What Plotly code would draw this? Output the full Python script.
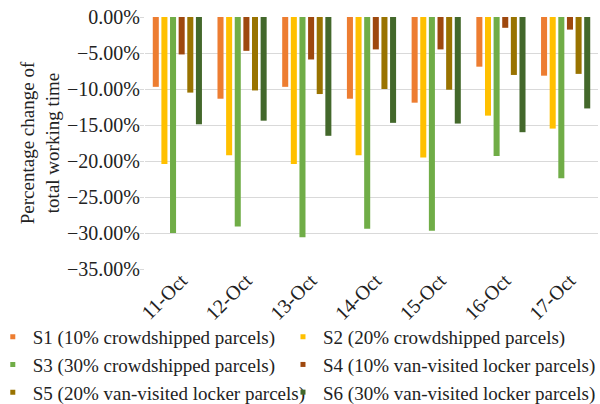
import plotly.graph_objects as go

categories = ["11-Oct", "12-Oct", "13-Oct", "14-Oct", "15-Oct", "16-Oct", "17-Oct"]
series_names = [
    "S1 (10% crowdshipped parcels)",
    "S2 (20% crowdshipped parcels)",
    "S3 (30% crowdshipped parcels)",
    "S4 (10% van-visited locker parcels)",
    "S5 (20% van-visited locker parcels)",
    "S6 (30% van-visited locker parcels)",
]
s1 = [-9.7, -11.35, -9.7, -11.35, -11.9, -6.9, -8.15]
s2 = [-20.4, -19.2, -20.4, -19.2, -19.5, -13.7, -15.5]
s3 = [-30.0, -29.1, -30.6, -29.4, -29.7, -19.3, -22.4]
s4 = [-5.2, -4.7, -5.9, -4.5, -4.5, -1.5, -1.75]
s5 = [-10.5, -10.2, -10.7, -10.0, -10.1, -8.05, -7.9]
s6 = [-14.9, -14.4, -16.5, -14.7, -14.8, -16.0, -12.7]
series_values = [s1, s2, s3, s4, s5, s6]
colors = ["#ED7D31", "#FFC000", "#70AD47", "#9E480E", "#997300", "#43682B"]
y_ticks = [0, -5, -10, -15, -20, -25, -30, -35]
legend_columns = ["legend", "legend2", "legend", "legend2", "legend", "legend2"]

FONT = "Liberation Serif"

fig = go.Figure()
for name, vals, col in zip(series_names, series_values, colors):
    fig.add_trace(go.Bar(x=categories, y=vals, name=name, marker_color=col,
                         marker_line_width=0, showlegend=False))
for name, col, lg in zip(series_names, colors, legend_columns):
    fig.add_trace(go.Scatter(x=[None], y=[None], mode="markers", name=name,
                             legend=lg,
                             marker=dict(symbol="square", size=5, color=col)))

legend_common = dict(orientation="v", xanchor="left", y=-0.194, yanchor="top",
                     itemwidth=30, bgcolor="rgba(0,0,0,0)",
                     font=dict(family=FONT, size=19, color="#222"),
                     tracegroupgap=0, traceorder="normal")

fig.update_layout(
    width=600, height=404,
    margin=dict(l=145, r=2, t=17, b=135, autoexpand=False),
    paper_bgcolor="white", plot_bgcolor="white",
    barmode="group", bargap=0.2, bargroupgap=0.3,
    font=dict(family=FONT, size=19, color="#222"),
    legend=dict(x=-0.336, **legend_common),
    legend2=dict(x=0.3046, **legend_common),
    showlegend=True,
)
fig.update_xaxes(tickangle=-45, showgrid=False, showline=False, ticks="",
                 ticklabelstandoff=-5, ticklabelshift=4,
                 automargin=False, tickfont=dict(family=FONT, size=20))
fig.update_yaxes(range=[-35, 0], tickvals=y_ticks,
                 ticktext=[("−" if v < 0 else "") + f"{abs(v):.2f}%" for v in y_ticks],
                 showgrid=True, gridcolor="#D9D9D9", gridwidth=1,
                 zeroline=False, showline=False,
                 ticks="outside", ticklen=4, tickcolor="#D9D9D9",
                 ticklabelstandoff=-4,
                 automargin=False, tickfont=dict(family=FONT, size=20),
                 title=dict(text="Percentage change of<br>total working time",
                            font=dict(family=FONT, size=19), standoff=2))

fig.write_html("out.html", config={"displayModeBar": False},
               post_script="document.body.style.margin='0';")
